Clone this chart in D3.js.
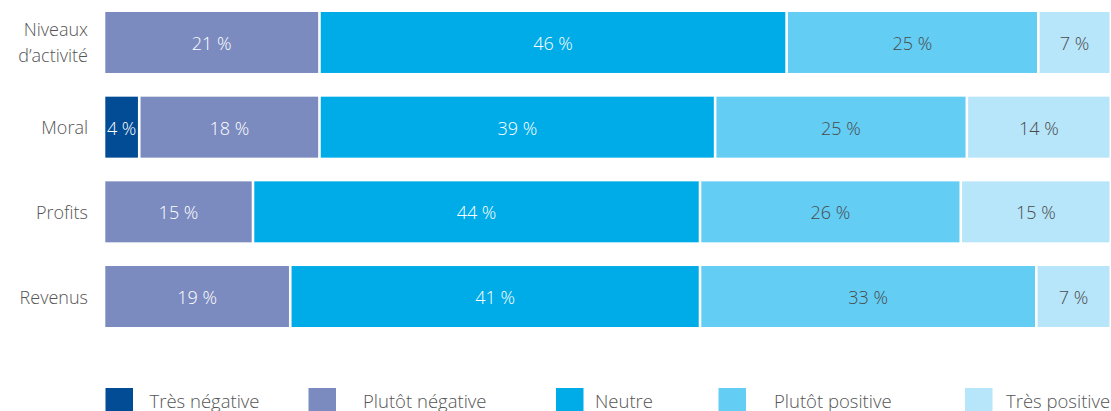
<!DOCTYPE html>
<html><head><meta charset="utf-8">
<script src="https://cdn.jsdelivr.net/npm/d3@7"></script>
<style>
html,body{margin:0;padding:0;background:#fff;}
svg{display:block;font-family:"Open Sans",sans-serif;font-weight:350;}
</style></head>
<body><svg id="c" width="1111" height="411"></svg>
<script>
const categories = ["Niveaux d’activité", "Moral", "Profits", "Revenus"];
const categoryLines = [["Niveaux", "d’activité"], ["Moral"], ["Profits"], ["Revenus"]];
const seriesNames = ["Très négative", "Plutôt négative", "Neutre", "Plutôt positive", "Très positive"];
const tresNegative   = [0,    3.5,  0,    0];
const plutotNegative = [21.4, 17.9, 14.8, 18.5];
const neutre         = [46.4, 39.3, 44.4, 40.7];
const plutotPositive = [25.0, 25.0, 25.9, 33.4];
const tresPositive   = [7.2,  14.3, 14.9, 7.4];
const colors = ["#014c94", "#7b8bbf", "#00ace8", "#63cdf4", "#b7e5f9"];
const labelColors = ["#ffffff", "#ffffff", "#ffffff", "#4a4a4a", "#4a4a4a"];
const seriesValues = [tresNegative, plutotNegative, neutre, plutotPositive, tresPositive];

const rows = categories.map((c, i) => {
  const o = {cat: c};
  seriesNames.forEach((s, j) => o[s] = seriesValues[j][i]);
  return o;
});
const stack = d3.stack().keys(seriesNames)(rows);

const svg = d3.select("#c");
const gap = 2.6;
const x = d3.scaleLinear().domain([0, 100]).range([104, 1110.8]);
const y = d3.scaleBand().domain(categories).range([12, 327]).paddingInner(0.28).paddingOuter(0);

stack.forEach((layer, j) => {
  const g = svg.append("g");
  layer.forEach((d, i) => {
    const v = d[1] - d[0];
    if (v <= 0) return;
    const x0 = x(d[0]) + gap / 2, x1 = x(d[1]) - gap / 2;
    const yy = y(categories[i]);
    g.append("rect").attr("x", x0).attr("y", yy).attr("width", x1 - x0)
      .attr("height", y.bandwidth()).attr("fill", colors[j]);
    g.append("text").attr("x", (x0 + x1) / 2).attr("y", yy + y.bandwidth() / 2 + 7.5)
      .attr("text-anchor", "middle").attr("font-size", 18).attr("fill", labelColors[j])
      .text(Math.round(v) + " %");
  });
});

// category labels
categories.forEach((c, i) => {
  const lines = categoryLines[i];
  const cy = y(c) + y.bandwidth() / 2;
  const lh = 26;
  const t = svg.append("text").attr("text-anchor", "end").attr("font-size", 18)
    .attr("fill", "#555");
  lines.forEach((l, k) => {
    t.append("tspan").attr("x", 88)
      .attr("y", cy + 7 + (k - (lines.length - 1) / 2) * lh).text(l);
  });
});

// legend
const legendSquareX = [105.5, 308.5, 556, 718.5, 965];
const legendTextX = [149.5, 363, 595, 774, 1006];
seriesNames.forEach((s, j) => {
  svg.append("rect").attr("x", legendSquareX[j]).attr("y", 388).attr("width", 27.5)
    .attr("height", 27).attr("fill", colors[j]);
  svg.append("text").attr("x", legendTextX[j]).attr("y", 407.5).attr("font-size", 18.5)
    .attr("fill", "#555").text(s);
});
</script></body></html>
